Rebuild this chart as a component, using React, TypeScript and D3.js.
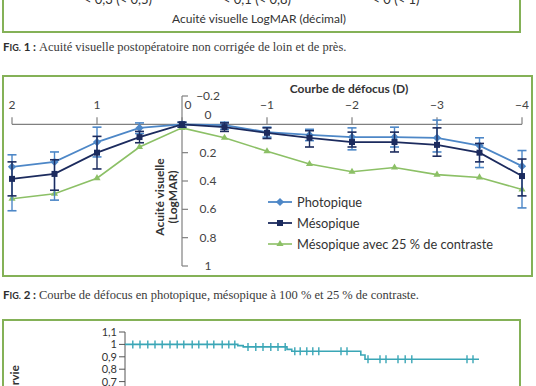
import { useEffect, useRef } from 'react';
import * as d3 from 'd3';

// Fig. 2 - defocus curve (D) vs LogMAR acuity
const defocus = [2, 1.5, 1, 0.5, 0, -0.5, -1, -1.5, -2, -2.5, -3, -3.5, -4];
const photopique = [0.3, 0.265, 0.125, 0.025, 0, 0.005, 0.055, 0.075, 0.09, 0.09, 0.095, 0.15, 0.295];
const photopiqueErrUp = [0.085, 0.07, 0.105, 0.035, 0.015, 0.02, 0.035, 0.04, 0.065, 0.07, 0.125, 0.055, 0.11];
const photopiqueErrDown = [0.31, 0.27, 0.105, 0.04, 0.02, 0.03, 0.035, 0.04, 0.09, 0.07, 0.1, 0.155, 0.295];
const mesopique = [0.385, 0.35, 0.2, 0.09, 0, 0.02, 0.06, 0.095, 0.125, 0.125, 0.145, 0.2, 0.365];
const mesopiqueErrUp = [0.12, 0.1, 0.115, 0.04, 0.015, 0.03, 0.035, 0.05, 0.07, 0.07, 0.12, 0.065, 0.12];
const mesopiqueErrDown = [0.12, 0.115, 0.115, 0.04, 0.02, 0.03, 0.04, 0.065, 0.035, 0.07, 0.08, 0.065, 0.14];
const contraste25 = [0.525, 0.49, 0.38, 0.16, 0.025, 0.095, 0.19, 0.28, 0.335, 0.305, 0.355, 0.375, 0.46];

const xTicks = [2, 1, 0, -1, -2, -3, -4];
const yTicks = [-0.2, 0, 0.2, 0.4, 0.6, 0.8, 1];
const legendLabels = ['Photopique', 'Mésopique', 'Mésopique avec 25 % de contraste'];

// Fig. 1 (cut off at the top)
const fig1Categories = ['< 0,3 (< 0,5)', '< 0,1 (< 0,8)', '< 0 (< 1)'];

// Fig. 3 - survival curve (cut off at the bottom)
const survieTicks = [1.1, 1, 0.9, 0.8, 0.7];
const survieSteps: [number, number][] = [
  [0, 1], [18.8, 0.99], [19.7, 0.98], [27, 0.96], [27.8, 0.945], [39.3, 0.915], [40, 0.88], [59, 0.88],
];
const survieCensures = [
  1.3, 2.5, 3.8, 5, 6.2, 7.5, 8.7, 9.8, 11.2, 12.3, 13.7, 14.8, 16.2, 17.3, 18.3,
  20.5, 21.8, 23, 24.3, 25.5, 26.7, 28.3, 29.2, 30.3, 31.3, 32.3, 36, 37,
  40.5, 42.5, 43.5, 45.5, 46.7, 47.8, 57, 58,
];

const GREEN_BORDER = '#84b157';
const BLUE = '#4d87c7';
const NAVY = '#1c2b5e';
const LIGHT_GREEN = '#8cc066';
const TEAL = '#3aa6b6';
const SANS = 'Lato, "Open Sans", sans-serif';
const SERIF = '"Liberation Serif", "DejaVu Serif", serif';

const App = () => {
  const svgRef = useRef<SVGSVGElement>(null);

  useEffect(() => {
    if (!svgRef.current) return;
    const svg = d3.select(svgRef.current);
    svg.selectAll('*').remove();

    svg.append('rect').attr('width', 536).attr('height', 386).attr('fill', '#fff');

    // ---- Fig. 1 remainder
    svg.append('rect')
      .attr('x', 3).attr('y', -10).attr('width', 517).attr('height', 42)
      .attr('fill', 'none').attr('stroke', GREEN_BORDER).attr('stroke-width', 2);
    const catX = d3.scalePoint().domain(fig1Categories).range([118, 396]);
    svg.selectAll('.cat1')
      .data(fig1Categories)
      .enter()
      .append('text')
      .attr('x', (d) => catX(d) as number)
      .attr('y', 4)
      .attr('text-anchor', 'middle')
      .attr('font-family', SANS)
      .attr('font-size', 13)
      .attr('fill', '#333')
      .text((d) => d);
    svg.append('text')
      .attr('x', 259).attr('y', 23)
      .attr('text-anchor', 'middle')
      .attr('font-family', SANS).attr('font-size', 12).attr('fill', '#333')
      .text('Acuité visuelle LogMAR (décimal)');

    const caption = (y: number, num: string, body: string) => {
      const t = svg.append('text').attr('x', 3).attr('y', y).attr('fill', '#2e2e2e');
      t.append('tspan').attr('font-family', SANS).attr('font-weight', 'bold').attr('font-size', 11.5).text('F');
      t.append('tspan').attr('font-family', SANS).attr('font-weight', 'bold').attr('font-size', 9).text('IG.');
      t.append('tspan').attr('font-family', SANS).attr('font-weight', 'bold').attr('font-size', 11.5).text(` ${num} : `);
      t.append('tspan').attr('font-family', SERIF).attr('font-size', 12.5).attr('fill', '#3a3a3a').text(body);
    };
    caption(51, '1', 'Acuité visuelle postopératoire non corrigée de loin et de près.');
    caption(299, '2', 'Courbe de défocus en photopique, mésopique à 100 % et 25 % de contraste.');

    // ---- Fig. 2
    svg.append('rect')
      .attr('x', 3).attr('y', 76).attr('width', 529).attr('height', 200)
      .attr('fill', 'none').attr('stroke', GREEN_BORDER).attr('stroke-width', 2);

    const x = d3.scaleLinear().domain([2, -4]).range([12, 522]);
    const y = d3.scaleLinear().domain([-0.2, 1]).range([96, 266]);
    const axisColor = '#808080';
    const g = svg.append('g');

    // x axis at LogMAR 0, ticks pointing up
    g.append('line')
      .attr('x1', x(2)).attr('x2', x(-4)).attr('y1', y(0)).attr('y2', y(0))
      .attr('stroke', axisColor).attr('stroke-width', 1.2);
    xTicks.forEach((d) => {
      g.append('line')
        .attr('x1', x(d)).attr('x2', x(d)).attr('y1', y(0)).attr('y2', y(0) - 7)
        .attr('stroke', axisColor).attr('stroke-width', 1.2);
      g.append('text')
        .attr('x', x(d) + (d === 0 ? 6 : 0))
        .attr('y', 109)
        .attr('text-anchor', 'middle')
        .attr('font-family', SANS).attr('font-size', 12).attr('fill', '#444')
        .text(d === 0 ? '0' : String(d).replace('-', '−'));
    });
    g.append('text')
      .attr('x', 349).attr('y', 93)
      .attr('text-anchor', 'middle')
      .attr('font-family', SANS).attr('font-weight', 'bold').attr('font-size', 12).attr('fill', '#333')
      .text('Courbe de défocus (D)');

    // y axis at defocus 0, ticks pointing right
    g.append('line')
      .attr('x1', x(0)).attr('x2', x(0)).attr('y1', y(-0.2)).attr('y2', y(1))
      .attr('stroke', axisColor).attr('stroke-width', 1.2);
    yTicks.forEach((d) => {
      if (d !== 0) {
        g.append('line')
          .attr('x1', x(0)).attr('x2', x(0) + 6).attr('y1', y(d)).attr('y2', y(d))
          .attr('stroke', axisColor).attr('stroke-width', 1.2);
      }
      g.append('text')
        .attr('x', 208)
        .attr('y', (d === 0 ? y(d) - 9 : y(d)) + 4)
        .attr('text-anchor', 'middle')
        .attr('font-family', SANS).attr('font-size', 12).attr('fill', '#444')
        .text(d === 0 || d === 1 ? String(d) : d.toFixed(1).replace('-', '−'));
    });
    const yTitle = g.append('text')
      .attr('font-family', SANS).attr('font-weight', 'bold').attr('font-size', 12).attr('fill', '#333')
      .attr('text-anchor', 'middle')
      .attr('transform', 'rotate(-90)');
    yTitle.append('tspan').attr('x', -197).attr('y', 164).text('Acuité visuelle');
    yTitle.append('tspan').attr('x', -197).attr('y', 177).text('(LogMAR)');

    const line = d3.line<number>().x((_, i) => x(defocus[i])).y((d) => y(d));

    const errBars = (vals: number[], up: number[], down: number[], color: string) => {
      vals.forEach((v, i) => {
        const cx = x(defocus[i]);
        const top = y(v - up[i]);
        const bot = y(v + down[i]);
        g.append('line').attr('x1', cx).attr('x2', cx).attr('y1', top).attr('y2', bot)
          .attr('stroke', color).attr('stroke-width', 1.4);
        [top, bot].forEach((yy) => {
          g.append('line').attr('x1', cx - 4.5).attr('x2', cx + 4.5).attr('y1', yy).attr('y2', yy)
            .attr('stroke', color).attr('stroke-width', 1.6);
        });
      });
    };

    const markers = (vals: number[], type: d3.SymbolType, size: number, rot: number, color: string) => {
      g.selectAll(null)
        .data(vals)
        .enter()
        .append('path')
        .attr('d', d3.symbol().type(type).size(size)())
        .attr('transform', (d, i) => `translate(${x(defocus[i])},${y(d)}) rotate(${rot})`)
        .attr('fill', color);
    };

    // green series (no error bars)
    g.append('path').datum(contraste25).attr('d', line)
      .attr('fill', 'none').attr('stroke', LIGHT_GREEN).attr('stroke-width', 1.6);
    markers(contraste25, d3.symbolTriangle, 22, 0, LIGHT_GREEN);

    errBars(photopique, photopiqueErrUp, photopiqueErrDown, BLUE);
    g.append('path').datum(photopique).attr('d', line)
      .attr('fill', 'none').attr('stroke', BLUE).attr('stroke-width', 1.8);
    markers(photopique, d3.symbolSquare, 34, 45, BLUE);

    errBars(mesopique, mesopiqueErrUp, mesopiqueErrDown, NAVY);
    g.append('path').datum(mesopique).attr('d', line)
      .attr('fill', 'none').attr('stroke', NAVY).attr('stroke-width', 1.8);
    markers(mesopique, d3.symbolSquare, 36, 0, NAVY);

    // legend
    const legendColors = [BLUE, NAVY, LIGHT_GREEN];
    const legendSymbols = [d3.symbolSquare, d3.symbolSquare, d3.symbolTriangle];
    const legendRot = [45, 0, 0];
    const legendSizes = [34, 36, 22];
    legendLabels.forEach((label, i) => {
      const ly = 202 + i * 21;
      g.append('line').attr('x1', 268).attr('x2', 292).attr('y1', ly).attr('y2', ly)
        .attr('stroke', legendColors[i]).attr('stroke-width', i === 2 ? 1.6 : 1.8);
      g.append('path')
        .attr('d', d3.symbol().type(legendSymbols[i]).size(legendSizes[i])())
        .attr('transform', `translate(280,${ly}) rotate(${legendRot[i]})`)
        .attr('fill', legendColors[i]);
      g.append('text')
        .attr('x', 297).attr('y', ly + 4.5)
        .attr('font-family', SANS).attr('font-size', 12.8).attr('fill', '#333')
        .text(label);
    });

    // ---- Fig. 3 remainder (survival)
    svg.append('rect')
      .attr('x', 3).attr('y', 320).attr('width', 517).attr('height', 90)
      .attr('fill', 'none').attr('stroke', GREEN_BORDER).attr('stroke-width', 2);
    const sy = d3.scaleLinear().domain([1.1, 0.7]).range([332, 381.6]);
    const sx = d3.scaleLinear().domain([0, 60]).range([125, 485]);
    svg.append('line')
      .attr('x1', 125).attr('x2', 125).attr('y1', sy(1.1)).attr('y2', 390)
      .attr('stroke', '#555').attr('stroke-width', 1);
    survieTicks.forEach((d) => {
      svg.append('line').attr('x1', 119).attr('x2', 125).attr('y1', sy(d)).attr('y2', sy(d))
        .attr('stroke', '#555').attr('stroke-width', 1);
      svg.append('text')
        .attr('x', 117).attr('y', sy(d) + 4)
        .attr('text-anchor', 'end')
        .attr('font-family', SANS).attr('font-size', 11).attr('fill', '#333')
        .text(String(d).replace('.', ','));
    });
    svg.append('text')
      .attr('transform', 'translate(19,365) rotate(-90)')
      .attr('text-anchor', 'end')
      .attr('font-family', SANS).attr('font-weight', 'bold').attr('font-size', 12).attr('fill', '#333')
      .text('Survie');

    const step = d3.line<[number, number]>().x((d) => sx(d[0])).y((d) => sy(d[1])).curve(d3.curveStepAfter);
    svg.append('path').datum(survieSteps).attr('d', step)
      .attr('fill', 'none').attr('stroke', TEAL).attr('stroke-width', 1.6);
    const survAt = (t: number) => {
      let s = 1;
      survieSteps.forEach((p) => { if (p[0] <= t) s = p[1]; });
      return s;
    };
    survieCensures.forEach((t) => {
      svg.append('line')
        .attr('x1', sx(t)).attr('x2', sx(t))
        .attr('y1', sy(survAt(t)) - 4).attr('y2', sy(survAt(t)) + 4)
        .attr('stroke', TEAL).attr('stroke-width', 1.4);
    });
  }, []);

  return (
    <svg
      ref={svgRef}
      width={536}
      height={386}
      style={{ position: 'absolute', left: 0, top: 0 }}
    />
  );
};

export default App;
